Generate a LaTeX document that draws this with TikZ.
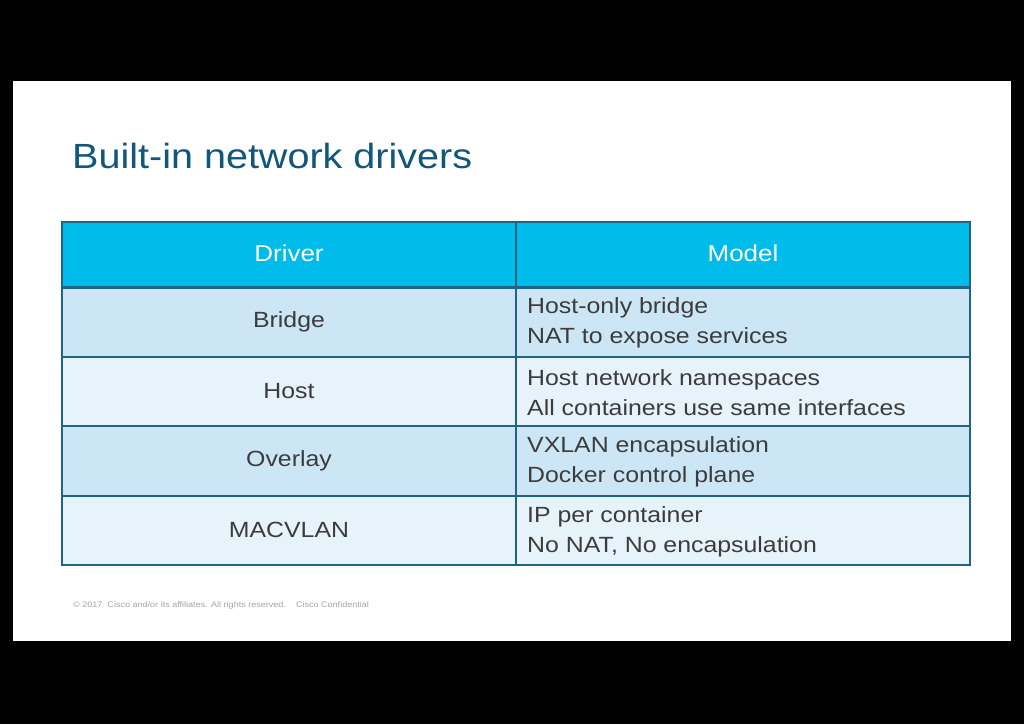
\documentclass[tikz,border=0pt]{standalone}
\usepackage{fontspec}
\setmainfont[FakeStretch=1.13]{Liberation Sans}
\definecolor{hdr}{RGB}{0,188,235}
\definecolor{rowa}{RGB}{204,230,246}
\definecolor{rowb}{RGB}{230,243,251}
\definecolor{grid}{RGB}{30,100,135}
\definecolor{ttl}{RGB}{16,86,125}
\definecolor{txt}{RGB}{60,60,60}
\definecolor{foot}{RGB}{165,165,165}
\tikzset{
  cell/.style={inner sep=0pt, text=txt, font=\fontsize{22}{30}\selectfont},
  lcell/.style={cell, anchor=west, align=left},
  hcell/.style={inner sep=0pt, text=white, font=\fontsize{23}{28}\selectfont},
  gridline/.style={draw=grid, line width=1.5pt}
}
\begin{document}
\begin{tikzpicture}[x=1pt,y=-1pt]
\useasboundingbox (0,0) rectangle (1024,724);
\fill[black] (0,0) rectangle (1024,724);
\fill[white] (13,81) rectangle (1011,641);
\node[anchor=base west, inner sep=0pt, text=ttl, font=\fontsize{35}{40}\selectfont] (title) at (72,168) {Built-in network drivers};
% rows
\fill[hdr] (62,222) rectangle (970,287);
\fill[rowa] (62,287) rectangle (970,357);
\fill[rowb] (62,357) rectangle (970,426);
\fill[rowa] (62,426) rectangle (970,496);
\fill[rowb] (62,496) rectangle (970,565);
% grid
\draw[gridline] (62,222) rectangle (970,565);
\draw[gridline] (516,222) -- (516,565);
\draw[draw=grid, line width=3pt] (62,287) -- (970,287);
\draw[gridline] (62,357) -- (970,357);
\draw[gridline] (62,426) -- (970,426);
\draw[gridline] (62,496) -- (970,496);
% header
\node[hcell] (hd) at (289,253) {Driver};
\node[hcell] (hm) at (743,253) {Model};
% cells
\node[cell] (d1) at (289,322) {Bridge};
\node[cell] (d2) at (289,391) {Host};
\node[cell] (d3) at (289,461) {Overlay};
\node[cell] (d4) at (289,530) {MACVLAN};
\node[lcell] (m1) at (527,323) {Host-only bridge\\NAT to expose services};
\node[lcell] (m2) at (527,393) {Host network namespaces\\All containers use same interfaces};
\node[lcell] (m3) at (527,462) {VXLAN encapsulation\\Docker control plane};
\node[lcell] (m4) at (527,532) {IP per container\\No NAT, No encapsulation};
\node[anchor=west, inner sep=0pt, text=foot, font=\fontsize{8}{9}\selectfont] (ft) at (73,605) {© 2017\ \ Cisco and/or its affiliates. All rights reserved.\ \ \ \ Cisco Confidential};
\end{tikzpicture}
\end{document}
